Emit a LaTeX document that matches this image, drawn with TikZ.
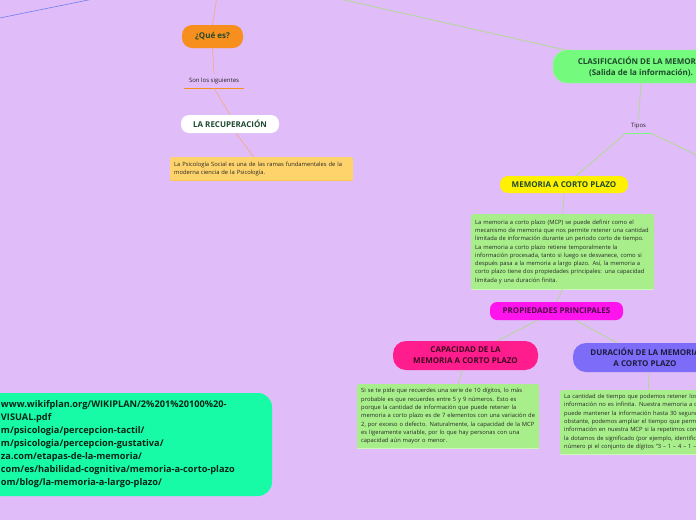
\documentclass[tikz,border=0pt]{standalone}
\usepackage{fontspec}
\setmainfont{Open Sans}
\definecolor{bglav}{HTML}{E0BCF8}
\definecolor{qorange}{HTML}{F78F1E}
\definecolor{notey}{HTML}{FFD36C}
\definecolor{clagreen}{HTML}{74FA7C}
\definecolor{mcpyellow}{HTML}{FFF100}
\definecolor{notegreen}{HTML}{A8EF8B}
\definecolor{propmag}{HTML}{FF14EE}
\definecolor{cappink}{HTML}{FF1D8D}
\definecolor{durblue}{HTML}{7C6CF7}
\definecolor{refteal}{HTML}{17FBA6}
\definecolor{headgreen}{HTML}{1F4A2E}
\definecolor{bodytext}{HTML}{262626}
\definecolor{lineorange}{HTML}{F5A97F}
\definecolor{linegreen}{HTML}{A6E07C}
\definecolor{lineblue}{HTML}{6E7FF3}
\begin{document}
\begin{tikzpicture}[x=1pt, y=-1pt,
    pill/.style={rounded corners=#1, inner sep=0pt, align=center,
                 font=\fontsize{8}{11}\selectfont\bfseries, text=headgreen},
    note/.style={anchor=north west, rounded corners=1.5pt, inner sep=4pt,
                 align=left, text=bodytext, font=\fontsize{5.8}{8.3}\selectfont},
    tag/.style={inner sep=0pt, minimum height=14, text=bodytext,
                font=\fontsize{6}{6}\selectfont},
    oline/.style={draw=lineorange, line width=0.6pt},
    gline/.style={draw=linegreen, line width=0.6pt}
]
  \clip (0,0) rectangle (696,520);
  \fill[bglav] (0,0) rectangle (696,520);

  % loose branch ends
  \coordinate (topb1) at (-20,22);
  \coordinate (topb2) at (108,-4);
  \coordinate (topo) at (218,-10);
  \coordinate (topg) at (300,-10);
  \coordinate (lp) at (760,186);
  \draw[draw=lineblue, line width=0.6pt] (topb1) -- (topb2);

  % Que es
  \node[pill=10pt, fill=qorange, minimum width=61, minimum height=23]
       (que) at (212.5,36.5) {¿Qué es?};
  \node[tag, minimum width=59] (son) at (214,81) {Son los siguientes};
  \draw[draw=qorange, line width=1pt] (son.south west) -- (son.south east);
  \node[pill=8pt, fill=white, minimum width=98, minimum height=18]
       (rec) at (230,124) {LA RECUPERACIÓN};
  \node[note, fill=notey, text width=175, minimum height=23] (psi) at (170,157)
       {La Psicología Social es una de las ramas fundamentales de la\\
        moderna ciencia de la Psicología.};
  \draw[draw=notey!80!orange, line width=0.8pt] (psi.south west) -- (psi.south east);

  \draw[oline] (topo) -- (que.north);
  \draw[oline] (que.south) -- (son.north);
  \draw[oline] (son.south) -- (rec.north);
  \draw[oline] ([xshift=6pt]rec.south) -- ([xshift=-8pt]psi.north);

  % Clasificacion
  \node[pill=14pt, fill=clagreen, draw=clagreen!70!white, minimum width=176,
        minimum height=33] (cla) at (641,66.5)
       {CLASIFICACIÓN DE LA MEMORIA\\(Salida de la información).};
  \node[tag, minimum width=25] (tipos) at (638.5,126) {Tipos};
  \draw[draw=clagreen, line width=1pt] (tipos.south west) -- (tipos.south east);
  \node[pill=8pt, fill=mcpyellow, minimum width=128, minimum height=17]
       (mcp) at (564,184.5) {MEMORIA A CORTO PLAZO};
  \node[note, fill=notegreen, text width=175, minimum height=75] (def) at (471,214)
       {La memoria a corto plazo (MCP) se puede definir como el\\
        mecanismo de memoria que nos permite retener una cantidad\\
        limitada de información durante un periodo corto de tiempo.\\
        La memoria a corto plazo retiene temporalmente la\\
        información procesada, tanto si luego se desvanece, como si\\
        después pasa a la memoria a largo plazo. Así, la memoria a\\
        corto plazo tiene dos propiedades principales: una capacidad\\
        limitada y una duración finita.};
  \draw[draw=notegreen!60!white, line width=0.8pt] (def.south west) -- (def.south east);

  \draw[gline] (topg) -- ([xshift=12pt]cla.north west);
  \draw[gline] (cla.south) -- (tipos.north);
  \draw[gline] (tipos.south west) -- ([xshift=12pt]mcp.north);
  \draw[gline] (tipos.south east) -- (lp);
  \draw[gline] (mcp.south) -- (def.north);

  % Propiedades
  \node[pill=7pt, fill=propmag, text=black!70!propmag, minimum width=133,
        minimum height=18] (prop) at (556.5,311) {PROPIEDADES PRINCIPALES};
  \node[pill=13pt, fill=cappink, text=black!75!cappink, minimum width=145,
        minimum height=29] (cap) at (465.5,355.5)
       {CAPACIDAD DE LA\\MEMORIA A CORTO PLAZO};
  \node[pill=13pt, fill=durblue, text=black!75!durblue, minimum width=144,
        minimum height=29] (dur) at (645,357.5)
       {DURACIÓN DE LA MEMORIA\\A CORTO PLAZO};
  \node[note, fill=notegreen, text width=174, minimum height=64] (capn) at (357,384)
       {Si se te pide que recuerdes una serie de 10 dígitos, lo más\\
        probable es que recuerdes entre 5 y 9 números. Esto es\\
        porque la cantidad de información que puede retener la\\
        memoria a corto plazo es de 7 elementos con una variación de\\
        2, por exceso o defecto. Naturalmente, la capacidad de la MCP\\
        es ligeramente variable, por lo que hay personas con una\\
        capacidad aún mayor o menor.};
  \node[note, fill=notegreen, text width=175, minimum height=63] (durn) at (560,390)
       {La cantidad de tiempo que podemos retener los\\
        información no es infinita. Nuestra memoria a corto\\
        puede mantener la información hasta 30 segundos.\\
        obstante, podemos ampliar el tiempo que permanece\\
        información en nuestra MCP si la repetimos con\\
        la dotamos de significado (por ejemplo, identificando\\
        número pi el conjunto de dígitos “3 – 1 – 4 – 1 – 5”};
  \draw[draw=notegreen!60!white, line width=0.8pt] (capn.south west) -- (capn.south east);
  \draw[draw=notegreen!60!white, line width=0.8pt] (durn.south west) -- (durn.south east);

  \draw[gline] (def.south) -- (prop.north);
  \draw[gline] ([xshift=-19pt]prop.south) -- ([xshift=32pt]cap.north);
  \draw[gline] ([xshift=19pt]prop.south) -- ([xshift=-28pt]dur.north);
  \draw[gline] ([xshift=-3pt]cap.south) -- ([xshift=10pt]capn.north);
  \draw[gline] ([xshift=3pt]dur.south) -- ([xshift=-3pt]durn.north);

  % Referencias
  \node[fill=refteal, rounded corners=14pt, text width=240, inner xsep=31pt,
        minimum height=103, align=left, text=black!85!refteal,
        font=\fontsize{9.2}{13}\selectfont\bfseries] (refs) at (121,444.5)
       {www.wikifplan.org/WIKIPLAN/2\%201\%20100\%20-\\
        VISUAL.pdf\\
        m/psicologia/percepcion-tactil/\\
        m/psicologia/percepcion-gustativa/\\
        za.com/etapas-de-la-memoria/\\
        com/es/habilidad-cognitiva/memoria-a-corto-plazo\\
        om/blog/la-memoria-a-largo-plazo/};
\end{tikzpicture}
\end{document}
